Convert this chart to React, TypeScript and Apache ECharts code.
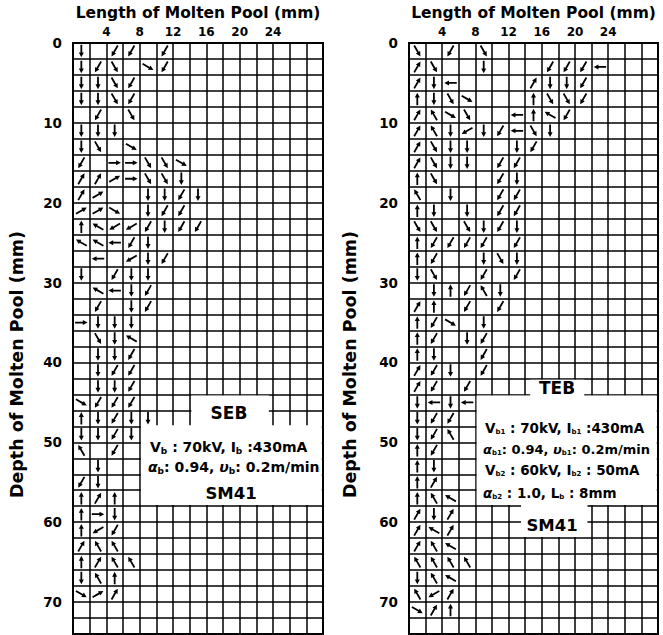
import React, { useEffect, useRef } from 'react';
import * as echarts from 'echarts';

// ---- axes (mm) ----
const X_MAX = 30;
const Y_MAX = 74;
const STEP = 2;
const X_LABELS = [4, 8, 12, 16, 20, 24];
const Y_LABELS = [0, 10, 20, 30, 40, 50, 60, 70];

// ---- flow arrows: [x (mm, cell centre), y (mm, cell centre), direction] ----
type Arrow = [number, number, string];

const SEB_ARROWS: Arrow[] = [
  [1, 1, 'D'], [5, 1, 'DL'], [7, 1, 'DL'], [11, 1, 'DL'],
  [1, 3, 'D'], [3, 3, 'DL'], [5, 3, 'DR'], [9, 3, 'dr'], [11, 3, 'DL'],
  [1, 5, 'D'], [3, 5, 'D'], [5, 5, 'DR'], [7, 5, 'DL'],
  [1, 7, 'D'], [3, 7, 'D'], [5, 7, 'DR'], [7, 7, 'DL'],
  [3, 9, 'DL'], [7, 9, 'DR'],
  [1, 11, 'D'], [3, 11, 'D'], [5, 11, 'D'],
  [1, 13, 'D'], [3, 13, 'DR'], [7, 13, 'dr'],
  [1, 15, 'DL'], [5, 15, 'R'], [7, 15, 'R'], [9, 15, 'DR'], [11, 15, 'DR'], [13, 15, 'dr'],
  [1, 17, 'UR'], [3, 17, 'UR'], [5, 17, 'ur'], [7, 17, 'R'], [9, 17, 'DR'], [11, 17, 'DR'], [13, 17, 'D'],
  [1, 19, 'UR'], [3, 19, 'ur'], [9, 19, 'D'], [11, 19, 'D'], [13, 19, 'DL'], [15, 19, 'D'],
  [1, 21, 'ur'], [3, 21, 'ur'], [5, 21, 'dr'], [9, 21, 'D'], [11, 21, 'DL'], [13, 21, 'DL'],
  [1, 23, 'U'], [3, 23, 'ul'], [5, 23, 'dl'], [7, 23, 'dl'], [9, 23, 'DL'], [11, 23, 'D'], [13, 23, 'DL'], [15, 23, 'DL'],
  [1, 25, 'ul'], [3, 25, 'ul'], [5, 25, 'L'], [7, 25, 'DL'], [9, 25, 'D'],
  [3, 27, 'L'], [7, 27, 'dl'], [9, 27, 'D'], [11, 27, 'DL'],
  [1, 29, 'D'], [5, 29, 'DL'], [7, 29, 'D'], [9, 29, 'D'],
  [3, 31, 'ul'], [5, 31, 'L'], [7, 31, 'D'], [9, 31, 'DL'],
  [3, 33, 'DL'], [7, 33, 'D'], [9, 33, 'DL'],
  [1, 35, 'R'], [3, 35, 'D'], [5, 35, 'D'], [7, 35, 'D'],
  [3, 37, 'DR'], [5, 37, 'D'], [7, 37, 'ul'],
  [3, 39, 'D'], [5, 39, 'D'], [7, 39, 'DL'],
  [3, 41, 'D'], [5, 41, 'DL'], [7, 41, 'DL'],
  [3, 43, 'D'], [5, 43, 'D'], [7, 43, 'DL'],
  [1, 45, 'dr'], [3, 45, 'DL'], [5, 45, 'DL'], [7, 45, 'DL'],
  [1, 47, 'U'], [3, 47, 'D'], [5, 47, 'DL'], [7, 47, 'D'], [9, 47, 'D'],
  [1, 49, 'D'], [3, 49, 'D'], [5, 49, 'DL'], [7, 49, 'D'],
  [1, 51, 'UL'], [5, 51, 'DL'],
  [3, 53, 'D'],
  [1, 55, 'DL'], [3, 55, 'D'],
  [1, 57, 'U'], [3, 57, 'UR'], [5, 57, 'U'],
  [1, 59, 'U'], [3, 59, 'R'], [5, 59, 'D'],
  [1, 61, 'U'], [3, 61, 'dl'], [5, 61, 'DL'],
  [1, 63, 'UR'], [3, 63, 'UL'], [5, 63, 'UL'],
  [1, 65, 'U'], [3, 65, 'UR'], [5, 65, 'UL'], [7, 65, 'UL'],
  [1, 67, 'D'], [3, 67, 'UL'], [5, 67, 'U'],
  [1, 69, 'dr'], [3, 69, 'ur'], [5, 69, 'UR'],
];

const TEB_ARROWS: Arrow[] = [
  [1, 1, 'DR'], [5, 1, 'DL'], [9, 1, 'DR'],
  [1, 3, 'UR'], [3, 3, 'DR'], [9, 3, 'D'], [17, 3, 'DL'], [19, 3, 'DL'], [21, 3, 'DL'], [23, 3, 'L'],
  [1, 5, 'UR'], [3, 5, 'D'], [5, 5, 'L'], [15, 5, 'UR'], [17, 5, 'D'], [19, 5, 'D'], [21, 5, 'DL'],
  [1, 7, 'U'], [3, 7, 'D'], [5, 7, 'DR'], [7, 7, 'dr'], [15, 7, 'U'], [17, 7, 'DR'], [19, 7, 'DR'], [21, 7, 'DL'],
  [1, 9, 'UR'], [3, 9, 'UL'], [5, 9, 'dr'], [7, 9, 'DR'], [13, 9, 'L'], [15, 9, 'U'], [17, 9, 'ul'], [19, 9, 'DL'],
  [1, 11, 'UR'], [3, 11, 'UL'], [5, 11, 'D'], [7, 11, 'dl'], [9, 11, 'D'], [11, 11, 'DL'], [13, 11, 'L'], [15, 11, 'DR'], [17, 11, 'D'],
  [1, 13, 'UR'], [3, 13, 'DR'], [5, 13, 'D'], [7, 13, 'D'], [13, 13, 'D'], [15, 13, 'DL'],
  [1, 15, 'UR'], [3, 15, 'DR'], [5, 15, 'D'], [7, 15, 'D'], [11, 15, 'DL'], [13, 15, 'DL'],
  [1, 17, 'U'], [3, 17, 'DR'], [11, 17, 'DL'], [13, 17, 'D'],
  [1, 19, 'UL'], [5, 19, 'D'], [11, 19, 'DL'], [13, 19, 'DL'],
  [1, 21, 'U'], [3, 21, 'D'], [7, 21, 'D'], [11, 21, 'DL'], [13, 21, 'DL'],
  [1, 23, 'DR'], [3, 23, 'DR'], [7, 23, 'DR'], [9, 23, 'D'], [11, 23, 'DL'], [13, 23, 'D'],
  [1, 25, 'U'], [3, 25, 'DL'], [5, 25, 'DL'], [7, 25, 'DL'], [9, 25, 'DL'], [13, 25, 'DL'],
  [1, 27, 'U'], [3, 27, 'DL'], [9, 27, 'D'], [11, 27, 'DR'], [13, 27, 'D'],
  [1, 29, 'D'], [3, 29, 'DR'], [9, 29, 'DL'], [13, 29, 'DL'],
  [3, 31, 'D'], [5, 31, 'U'], [7, 31, 'DL'], [9, 31, 'UL'], [11, 31, 'D'],
  [1, 33, 'UR'], [3, 33, 'U'], [7, 33, 'DL'], [11, 33, 'DL'],
  [1, 35, 'U'], [3, 35, 'DL'], [5, 35, 'dr'], [9, 35, 'D'],
  [1, 37, 'U'], [3, 37, 'DL'], [7, 37, 'D'], [9, 37, 'DL'],
  [1, 39, 'U'], [3, 39, 'D'], [9, 39, 'DL'],
  [1, 41, 'UR'], [3, 41, 'DL'], [5, 41, 'D'], [9, 41, 'DL'],
  [1, 43, 'UR'], [3, 43, 'DL'], [7, 43, 'DL'],
  [1, 45, 'D'], [3, 45, 'L'], [5, 45, 'D'], [7, 45, 'L'],
  [1, 47, 'D'], [3, 47, 'DL'], [5, 47, 'DL'],
  [1, 49, 'D'], [3, 49, 'DL'], [5, 49, 'UL'],
  [1, 51, 'U'], [3, 51, 'DL'],
  [1, 53, 'U'], [3, 53, 'D'],
  [1, 55, 'U'], [3, 55, 'UR'],
  [1, 57, 'U'], [3, 57, 'UL'], [5, 57, 'ul'],
  [1, 59, 'UR'], [3, 59, 'D'], [5, 59, 'UR'],
  [1, 61, 'UR'], [3, 61, 'ul'], [5, 61, 'UR'],
  [1, 63, 'UR'], [3, 63, 'UL'], [5, 63, 'ul'],
  [1, 65, 'UL'], [3, 65, 'UL'], [5, 65, 'UL'], [7, 65, 'UL'],
  [1, 67, 'D'], [3, 67, 'UL'], [5, 67, 'ul'],
  [1, 69, 'UL'], [3, 69, 'dl'], [5, 69, 'UR'],
  [1, 71, 'dr'], [3, 71, 'UR'], [5, 71, 'U'],
];

// white annotation areas (mm): [x0, y0, x1, y1]
const SEB_BOXES = [
  [8.15, 47.85, 29.85, 57.85],
  [14.2, 44.15, 23.5, 48.1],
];
const TEB_BOXES = [
  [8.15, 44.15, 29.85, 57.85],
  [14.6, 42.15, 21.1, 44.2],
  [13.5, 57.85, 21.5, 61.85],
];

const DIR_ANGLE: Record<string, number> = {
  R: 0, ur: 30, UR: 60, U: 90, UL: 120, ul: 150, L: 180,
  dl: 210, DL: 240, D: 270, DR: 300, dr: 330,
};

const FONT = 'DejaVu Sans';
const ARROW_PATH = 'path://M5,0 L10,10 L6.8,10 L6.8,26 L3.2,26 L3.2,10 L0,10 Z';

function xAxisFor(gridIndex: number) {
  return {
    gridIndex,
    type: 'value',
    position: 'top',
    min: 0,
    max: X_MAX,
    interval: STEP,
    name: 'Length of Molten Pool (mm)',
    nameLocation: 'middle',
    nameGap: 21,
    nameTextStyle: { fontSize: 15.5, fontWeight: 'bold', fontFamily: FONT, color: '#000' },
    axisLine: { show: true, lineStyle: { color: '#000', width: 2 } },
    axisTick: { show: false },
    axisLabel: {
      margin: 5,
      fontSize: 12,
      fontWeight: 'bold',
      fontFamily: FONT,
      color: '#000',
      formatter: (v: number) => (X_LABELS.includes(v) ? String(v) : ''),
    },
    splitLine: { show: true, lineStyle: { color: '#000', width: 1.5 } },
  };
}

function yAxisFor(gridIndex: number, gap: number) {
  return {
    gridIndex,
    type: 'value',
    inverse: true,
    min: 0,
    max: Y_MAX,
    interval: STEP,
    name: 'Depth of Molten Pool (mm)',
    nameLocation: 'middle',
    nameGap: gap,
    nameTextStyle: {
      fontSize: 17.5,
      fontWeight: 'bold',
      fontFamily: FONT,
      color: '#000',
      padding: [0, 52, 0, 0],
    },
    axisLine: { show: true, lineStyle: { color: '#000', width: 2 } },
    axisTick: { show: false },
    axisLabel: {
      margin: 11,
      fontSize: 13.5,
      fontWeight: 'bold',
      fontFamily: FONT,
      color: '#000',
      formatter: (v: number) => (Y_LABELS.includes(v) ? String(v) : ''),
    },
    splitLine: { show: true, lineStyle: { color: '#000', width: 1.5 } },
  };
}

function arrowSeries(idx: number, arrows: Arrow[], boxes: number[][]) {
  return {
    type: 'scatter',
    xAxisIndex: idx,
    yAxisIndex: idx,
    silent: true,
    symbol: ARROW_PATH,
    symbolSize: [5, 12.5],
    symbolRotate: (v: number[]) => v[2] - 90,
    itemStyle: { color: '#000', opacity: 1 },
    data: arrows.map(([x, y, d]) => [x, y, DIR_ANGLE[d]]),
    markArea: {
      silent: true,
      itemStyle: { color: '#fff', opacity: 1, borderWidth: 0 },
      label: { show: false },
      data: boxes.map((b) => [{ coord: [b[0], b[1]] }, { coord: [b[2], b[3]] }]),
    },
  };
}

function richFor(mainSize: number, subSize: number) {
  return {
    b: { fontSize: subSize, fontWeight: 'bold', fontFamily: FONT, padding: [8, 0, 0, 0], fill: '#000' },
    i: { fontSize: mainSize, fontWeight: 'bold', fontFamily: FONT, fontStyle: 'italic', fill: '#000' },
  };
}

function label(x: number, y: number, text: string, size: number, align: string, subSize = 9) {
  return {
    type: 'text',
    x,
    y,
    z: 100,
    style: {
      text,
      fill: '#000',
      fontSize: size,
      fontWeight: 'bold',
      fontFamily: FONT,
      align,
      verticalAlign: 'middle',
      rich: richFor(size, subSize),
    },
  };
}

export default function App() {
  const ref = useRef<HTMLDivElement>(null);
  useEffect(() => {
    if (!ref.current) return;
    const chart = echarts.init(ref.current, undefined, { renderer: 'svg' });
    chart.setOption({
      animation: false,
      backgroundColor: '#fff',
      grid: [
        { left: 73, top: 43, width: 250, height: 591, show: true, borderColor: '#000', borderWidth: 2 },
        { left: 409, top: 43, width: 249, height: 591, show: true, borderColor: '#000', borderWidth: 2 },
      ],
      xAxis: [xAxisFor(0), xAxisFor(1)],
      yAxis: [yAxisFor(0, 47), yAxisFor(1, 50)],
      series: [arrowSeries(0, SEB_ARROWS, SEB_BOXES), arrowSeries(1, TEB_ARROWS, TEB_BOXES)],
      graphic: [
        label(229, 413, 'SEB', 17, 'center'),
        label(150, 447, 'V{b|b} : 70kV, I{b|b} :430mA', 14, 'left'),
        label(148, 467, '{i|α}{b|b}: 0.94, {i|υ}{b|b}: 0.2m/min', 14, 'left'),
        label(231, 493, 'SM41', 16.5, 'center'),
        label(557, 388, 'TEB', 17, 'center'),
        label(485, 428, 'V{b|b1} : 70kV, I{b|b1} :430mA', 13.5, 'left', 7),
        label(483, 449, '{i|α}{b|b1}: 0.94, {i|υ}{b|b1}: 0.2m/min', 13, 'left', 7),
        label(485, 470, 'V{b|b2} : 60kV, I{b|b2} : 50mA', 13.5, 'left', 7),
        label(483, 493, '{i|α}{b|b2} : 1.0, L{b|b} : 8mm', 13.5, 'left', 7),
        label(552, 525, 'SM41', 16.5, 'center'),
      ],
    });
    return () => chart.dispose();
  }, []);
  return (
    <div
      ref={ref}
      style={{ position: 'fixed', left: 0, top: 0, width: 663, height: 635, background: '#fff' }}
    />
  );
}
